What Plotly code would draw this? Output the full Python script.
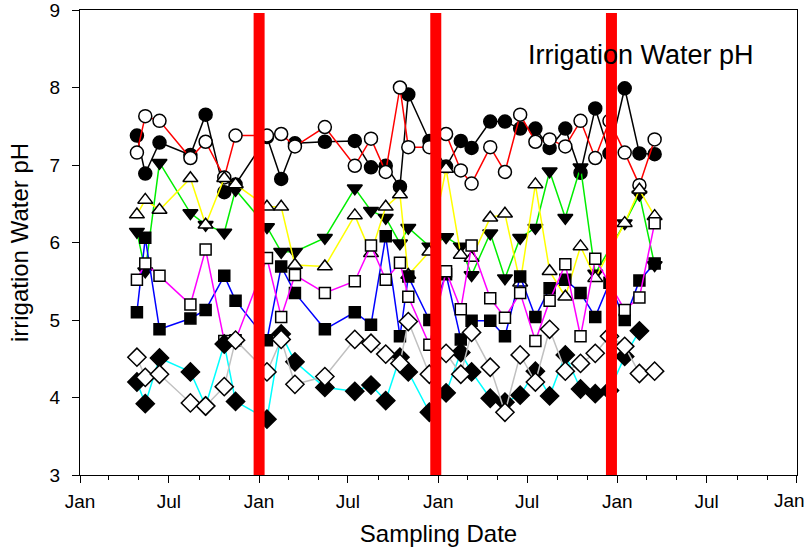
import plotly.graph_objects as go

# Sampling dates (roughly monthly)
dates = [
    "2001-04-27", "2001-05-14", "2001-06-12", "2001-08-14", "2001-09-14", "2001-10-22", "2001-11-14",
    "2002-01-17", "2002-02-15", "2002-03-15", "2002-05-15", "2002-07-15", "2002-08-17", "2002-09-16",
    "2002-10-15", "2002-11-01", "2002-12-14",
    "2003-01-17", "2003-02-16", "2003-03-10", "2003-04-17", "2003-05-17", "2003-06-17", "2003-07-18",
    "2003-08-16", "2003-09-17", "2003-10-18", "2003-11-17", "2003-12-16",
    "2004-01-16", "2004-02-15", "2004-03-17",
]

ph_filled_circle = [7.38, 6.89, 7.29, 7.13, 7.65, 6.65, 6.75,
                    7.36, 6.82, 7.28, 7.30, 7.31, 6.97, 6.99, 6.72, 7.91, 7.31,
                    6.98, 7.31, 7.22, 7.56, 7.56, 7.47, 7.47, 7.22, 7.47, 6.90, 7.73, 7.15,
                    7.99, 7.15, 7.14]
ph_open_circle = [7.16, 7.63, 7.57, 7.09, 7.30, 6.84, 7.38,
                  7.38, 7.40, 7.24, 7.49, 6.99, 7.34, 6.91, 8.00, 7.23, 7.23,
                  7.40, 6.93, 6.76, 7.23, 6.91, 7.65, 7.30, 7.33, 7.24, 7.57, 7.09, 7.57,
                  7.16, 6.74, 7.33]
ph_filled_tri_down = [6.14, 5.63, 7.03, 6.38, 6.23, 6.13, 6.68,
                      6.20, 5.88, 5.88, 6.06, 6.70, 6.41, 6.32, 5.99, 6.19, 5.95,
                      6.07, 5.95, 5.58, 6.12, 5.54, 6.06, 6.19, 6.92, 6.32, 6.97, 5.60, None,
                      6.25, 6.62, 5.71]
ph_open_tri_up = [6.36, 6.55, 6.42, 6.83, 6.23, 6.83, 6.75,
                  6.46, 6.46, 5.71, 5.69, 6.35, 5.86, 6.46, 6.62, 5.58, 5.88,
                  6.95, 5.84, 5.80, 6.32, 6.37, 5.48, 6.75, 5.63, 5.30, 5.95, 5.54, None,
                  6.25, 6.68, 6.34]
ph_filled_square = [5.10, 6.06, 4.88, 5.02, 5.13, 5.57, 5.25,
                    4.74, 5.69, 5.35, 4.88, 5.10, 4.94, 6.08, 4.79, 5.56, 5.00,
                    5.59, 4.75, 4.99, 4.99, 4.79, 5.56, 5.04, 5.41, 5.52, 5.35, 5.04, 5.48,
                    5.00, 5.51, 5.73]
ph_open_square = [5.52, 5.73, 5.57, 5.20, 5.91, 4.73, 4.74,
                  5.80, 5.04, 5.58, 5.35, 5.50, 5.96, 5.52, 5.74, 5.30, 4.68,
                  5.63, 5.14, 5.96, 5.28, 5.03, 5.35, 4.73, 5.25, 5.72, 4.79, 5.79, None,
                  5.13, 5.29, 6.25]
ph_filled_diamond = [4.20, 3.92, 4.51, 4.33, 3.89, 4.69, 3.95,
                     3.72, 4.82, 4.46, 4.13, 4.08, 4.16, 3.96, 4.52, 4.33, 3.81,
                     4.06, 4.58, 4.33, 3.99, 3.94, 4.03, 4.34, 4.02, 4.55, 4.11, 4.05, 4.09,
                     4.53, 4.86, None]
ph_open_diamond = [4.52, 4.26, 4.30, 3.93, 3.89, 4.14, 4.74,
                   4.33, 4.75, 4.17, 4.27, 4.75, 4.70, 4.56, 4.44, 4.98, 4.30,
                   4.57, 4.30, 4.84, 4.39, 3.81, 4.55, 4.20, 4.88, 4.34, 4.44, 4.57, 4.79,
                   4.66, 4.31, 4.34]

# Major x ticks (half-yearly); the final one sits on the right frame edge
tick_dates = ["2001-01-01", "2001-07-01", "2002-01-01", "2002-07-01", "2003-01-01",
              "2003-07-01", "2004-01-01", "2004-07-01", "2005-01-01"]
tick_labels = ["Jan", "Jul", "Jan", "Jul", "Jan", "Jul", "Jan", "Jul", "Jan"]

# Dates marked with red vertical bars
marker_dates = ["2002-01-01", "2002-12-27", "2003-12-20"]

series = [
    (ph_filled_circle, "circle", "black", "black", 13),
    (ph_open_circle, "circle", "white", "red", 13),
    (ph_filled_tri_down, "triangle-down", "black", "#00ee00", 13),
    (ph_open_tri_up, "triangle-up", "white", "#ffff00", 13),
    (ph_filled_square, "square", "black", "blue", 11),
    (ph_open_square, "square", "white", "magenta", 11),
    (ph_filled_diamond, "diamond", "black", "cyan", 14),
    (ph_open_diamond, "diamond", "white", "#c0c0c0", 14),
]

font = "Arial, Liberation Sans, sans-serif"
fig = go.Figure()
for vals, sym, fill, lcol, size in series:
    fig.add_trace(go.Scatter(
        x=dates, y=vals, mode="lines+markers", connectgaps=True,
        line=dict(color=lcol, width=1.5),
        marker=dict(symbol=sym, size=size, color=fill,
                    line=dict(color="black", width=1.5)),
        showlegend=False, hoverinfo="skip",
    ))

for d in marker_dates:
    fig.add_shape(type="line", xref="x", yref="y", x0=d, x1=d, y0=3, y1=8.96,
                  line=dict(color="#ff0000", width=11), layer="above")

fig.add_annotation(text="Irrigation Water pH", xref="paper", yref="paper",
                   x=0.782, y=0.903, xanchor="center", yanchor="middle", showarrow=False,
                   font=dict(family=font, size=27, color="black"))

# The last tick label at the frame edge is nudged left so it stays inside the page
fig.add_annotation(text=tick_labels[-1], xref="x", yref="paper",
                   x=tick_dates[-1], y=0, xanchor="center", yanchor="top",
                   xshift=-7, yshift=-13, showarrow=False,
                   font=dict(family=font, size=19, color="black"))

fig.update_layout(
    width=807, height=551,
    margin=dict(l=80, r=10, t=10, b=76, autoexpand=False),
    paper_bgcolor="white", plot_bgcolor="white",
    font=dict(family=font, color="black"),
    xaxis=dict(
        type="date", range=["2001-01-01", "2005-01-01 03:00"],
        tickmode="array", tickvals=tick_dates,
        ticktext=tick_labels[:-1] + [""],
        ticks="outside", ticklen=7, tickwidth=1, tickcolor="black",
        minor=dict(dtick="M2", tick0="2001-01-01", ticks="outside", ticklen=4,
                   tickcolor="black", showgrid=False),
        showline=True, linecolor="black", linewidth=1, mirror=True,
        showgrid=False, zeroline=False, automargin=False,
        tickfont=dict(size=19, family=font), ticklabelstandoff=2,
        ticklabeloverflow="allow",
        title=dict(text="Sampling Date", font=dict(size=24, family=font), standoff=14),
    ),
    yaxis=dict(
        range=[3, 9], dtick=1, tick0=3,
        ticks="outside", ticklen=7, tickwidth=1, tickcolor="black",
        showline=True, linecolor="black", linewidth=1, mirror=True,
        showgrid=False, zeroline=False, automargin=False,
        tickfont=dict(size=19, family=font), ticklabelstandoff=8,
        ticklabeloverflow="allow",
        title=dict(text="irrigation Water pH", font=dict(size=24, family=font), standoff=14),
    ),
)

fig.write_html("out.html")
